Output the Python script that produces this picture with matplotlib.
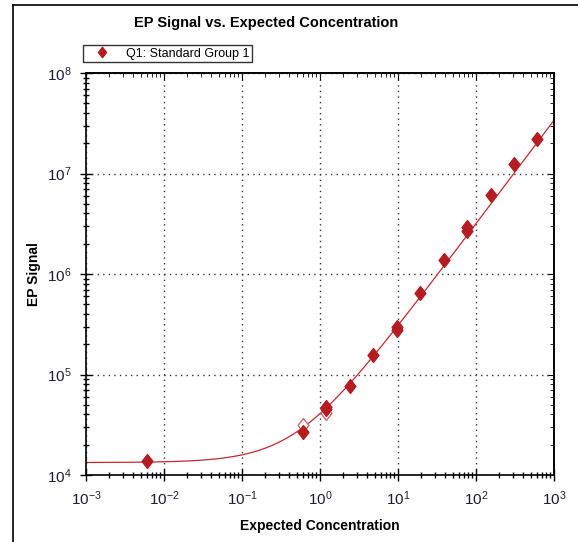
import numpy as np
import matplotlib
matplotlib.use("Agg")
import matplotlib.pyplot as plt
from matplotlib.path import Path
from matplotlib.lines import Line2D
from matplotlib.ticker import LogLocator, NullFormatter

############## Données ##############################################

# concentrations attendues (points standards)
conc = [0.006, 0.6, 1.2, 1.2, 2.4, 4.8, 9.6, 9.6, 19.2, 38.4, 76.8, 76.8, 153.6, 307.2, 614.4]
signal = [1.38e4, 2.7e4, 4.55e4, 4.7e4, 7.7e4, 1.56e5, 2.97e5, 2.77e5, 6.5e5, 1.38e6, 2.94e6, 2.68e6, 6.1e6, 1.24e7, 2.2e7]

# points exclus (losanges vides)
conc_exclus = [0.6, 1.2]
signal_exclus = [3.14e4, 4.1e4]

# paramètres de l'ajustement y = d + a * x^b
fit_d = 1.33e4
fit_a = 2.75e4
fit_b = 1.03

titre = "EP Signal vs. Expected Concentration"
nom_x = "Expected Concentration"
nom_y = "EP Signal"
nom_serie = "Q1: Standard Group 1"

############## Figure ################################################

plt.rcParams['font.family'] = ['Liberation Sans', 'DejaVu Sans']
plt.rcParams['mathtext.fontset'] = 'custom'
plt.rcParams['mathtext.rm'] = 'Liberation Sans'
plt.rcParams['axes.unicode_minus'] = False

rouge = '#b51c22'
rouge_ligne = '#c42a30'
texte = '#1c1c34'

W, H = 578, 542
fig = plt.figure(figsize=(W/100, H/100), dpi=100)

# cadre de la fenêtre
fig.add_artist(Line2D([13/W, 13/W], [0, 1 - 5/H], color='black', lw=1.2, transform=fig.transFigure))
fig.add_artist(Line2D([13/W, 1], [1 - 5/H, 1 - 5/H], color='black', lw=1.2, transform=fig.transFigure))

ax = fig.add_axes([86/W, (H - 475)/H, (554 - 86)/W, (475 - 73)/H])
ax.set_xscale('log')
ax.set_yscale('log')
ax.set_xlim(1e-3, 1e3)
ax.set_ylim(1e4, 1e8)

# courbe ajustée
xf = np.logspace(-3, 3, 400)
yf = fit_d + fit_a * xf**fit_b
ax.plot(xf, yf, color=rouge_ligne, lw=0.9, zorder=2)

# losange un peu étroit
losange = Path([(0, 1), (0.78, 0), (0, -1), (-0.78, 0), (0, 1)],
               [Path.MOVETO, Path.LINETO, Path.LINETO, Path.LINETO, Path.CLOSEPOLY])

ax.plot(conc_exclus, signal_exclus, linestyle='none', marker=losange, markersize=10,
        markerfacecolor='white', markeredgecolor='#d0686c', markeredgewidth=1.0, zorder=3)
ax.plot(conc, signal, linestyle='none', marker=losange, markersize=10,
        color=rouge, markeredgecolor=rouge, zorder=4, label=nom_serie)

# grille pointillée
ax.grid(True, which='major', color='#333333', linestyle=(0, (1, 3)), lw=1.0)

for a in (ax.xaxis, ax.yaxis):
    a.set_major_locator(LogLocator(base=10, numticks=20))
    a.set_minor_locator(LogLocator(base=10, subs=np.arange(2, 10), numticks=20))
    a.set_minor_formatter(NullFormatter())

ax.tick_params(which='major', direction='inout', length=9, width=1, colors='black',
               labelcolor=texte, labelsize=11)
ax.tick_params(which='minor', direction='inout', length=5, width=1)
ax.tick_params(axis='x', which='major', pad=6)
ax.tick_params(axis='y', which='major', pad=6)

# graduations haut et droite vers l'intérieur
haut = ax.secondary_xaxis('top')
haut.xaxis.set_major_locator(LogLocator(base=10, numticks=20))
haut.xaxis.set_minor_locator(LogLocator(base=10, subs=np.arange(2, 10), numticks=20))
haut.tick_params(which='major', direction='in', length=5, labeltop=False)
haut.tick_params(which='minor', direction='in', length=3)
haut.xaxis.set_minor_formatter(NullFormatter())
haut.xaxis.set_major_formatter(NullFormatter())

droite = ax.secondary_yaxis('right')
droite.yaxis.set_major_locator(LogLocator(base=10, numticks=20))
droite.yaxis.set_minor_locator(LogLocator(base=10, subs=np.arange(2, 10), numticks=20))
droite.tick_params(which='major', direction='in', length=5, labelright=False)
droite.tick_params(which='minor', direction='in', length=3)
droite.yaxis.set_minor_formatter(NullFormatter())
droite.yaxis.set_major_formatter(NullFormatter())

for s in ax.spines.values():
    s.set_linewidth(1.2)
haut.spines['top'].set_linewidth(1.2)
droite.spines['right'].set_linewidth(1.2)

fig.text(266/W, 1 - 23/H, titre, ha='center', va='center', fontsize=10.5, fontweight='bold')
ax.set_xlabel(nom_x, fontsize=10, fontweight='bold', labelpad=8)
ax.set_ylabel(nom_y, fontsize=10, fontweight='bold', labelpad=4)

leg = ax.legend(loc='lower left', bbox_to_anchor=(83/W, 1 - 62/H), bbox_transform=fig.transFigure,
                fontsize=9, frameon=True, fancybox=False, borderpad=0.2, handlelength=2.6,
                handletextpad=0.6, borderaxespad=0, markerscale=0.75)
leg.get_frame().set_edgecolor('black')
leg.get_frame().set_linewidth(1.0)

fig.savefig('out.png', dpi=100)
